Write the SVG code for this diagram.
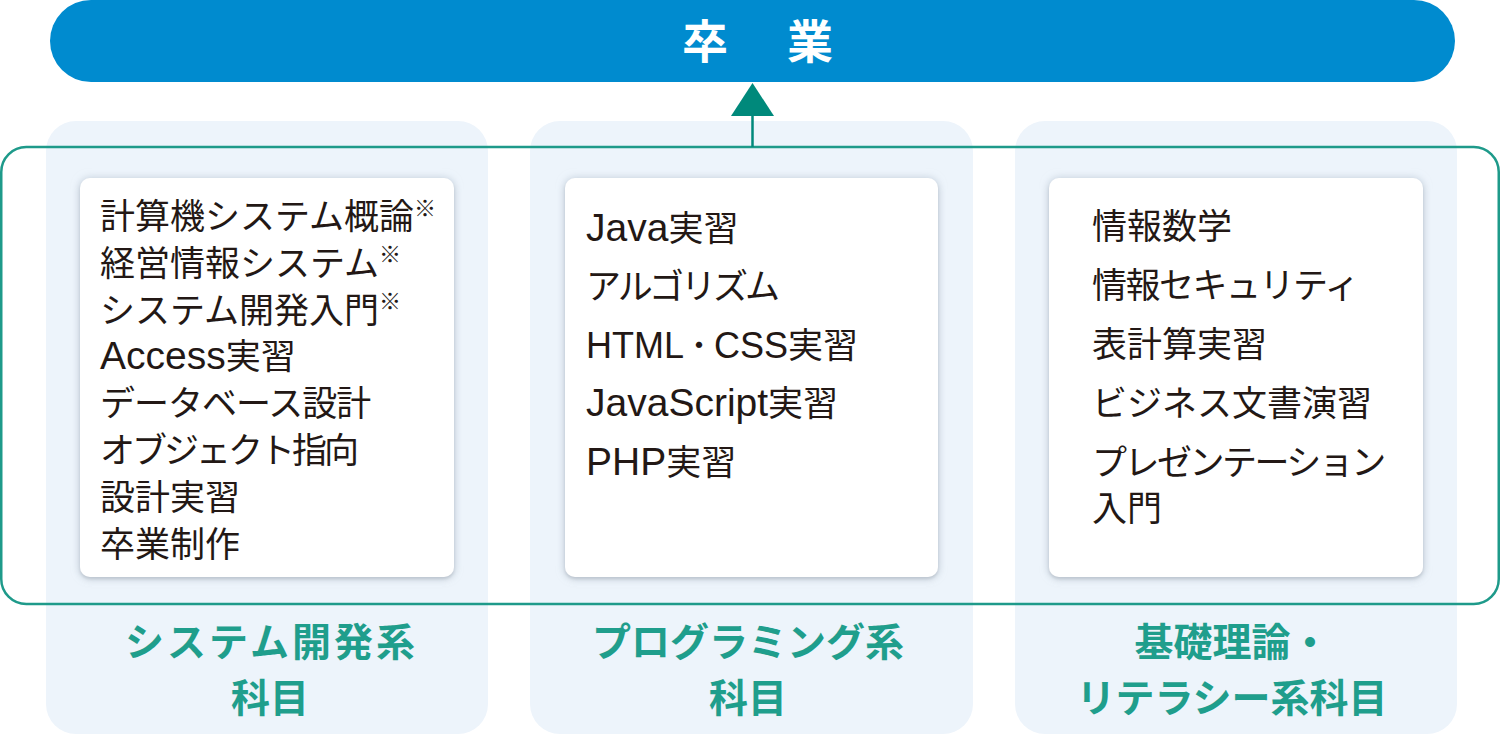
<svg xmlns="http://www.w3.org/2000/svg" width="1500" height="735" viewBox="0 0 1500 735">
  <defs>
    <style>
      .bg { fill: #EDF4FB; }
      .card { fill: #FFFFFF; filter: url(#shadow); }
      .jp { font-family: "Noto Sans CJK JP", "Noto Sans CJK SC", sans-serif; font-size: 35px; fill: #231815; }
      .lat { font-family: "Liberation Sans", Arial, sans-serif; font-size: 39px; }
      .cap { font-family: "Liberation Sans", Arial, sans-serif; font-size: 36px; }
      .kome { font-size: 22px; }
      .dot { font-size: 30px; }
      .label { font-family: "Noto Sans CJK JP", sans-serif; font-size: 39px; font-weight: bold; fill: #1F9E8C; text-anchor: middle; }
      .title { font-family: "Noto Sans CJK JP", sans-serif; font-size: 46px; font-weight: bold; fill: #FFFFFF; letter-spacing: 6.5px; }
    </style>
    <filter id="shadow" x="-10%" y="-10%" width="120%" height="120%">
      <feDropShadow dx="0" dy="0" stdDeviation="4" flood-color="#B8C6D6" flood-opacity="0.6"/>
      <feDropShadow dx="0" dy="2" stdDeviation="1.5" flood-color="#000000" flood-opacity="0.3"/>
    </filter>
  </defs>

  <!-- column backgrounds -->
  <rect class="bg" x="46" y="121" width="442" height="613" rx="30"/>
  <rect class="bg" x="530" y="121" width="443" height="613" rx="30"/>
  <rect class="bg" x="1015" y="121" width="442" height="613" rx="30"/>

  <!-- top node -->
  <g id="graduation">
    <rect x="50" y="0" width="1405" height="82" rx="41" fill="#008BCF"/>
    <text class="title" x="682" y="57.5">卒　業</text>
  </g>

  <!-- connectors -->
  <g id="connectors">
    <rect x="1.25" y="147" width="1497.5" height="457" rx="25" fill="none" stroke="#1E9A8A" stroke-width="2.5"/>
    <line x1="752.5" y1="147" x2="752.5" y2="114" stroke="#00897B" stroke-width="2.5"/>
    <polygon points="752.5,83 731,116 774,116" fill="#00897B"/>
  </g>

  <!-- column 1 -->
  <g id="col-system">
    <rect class="card" x="80" y="178" width="374" height="399" rx="10"/>
    <text class="jp" x="100" y="229">計算機システム概論<tspan class="kome" dy="-13.5">※</tspan></text>
    <text class="jp" x="100" y="275.8">経営情報システム<tspan class="kome" dy="-13.5">※</tspan></text>
    <text class="jp" x="100" y="322.6">システム開発入門<tspan class="kome" dy="-13.5">※</tspan></text>
    <text class="jp" x="100" y="369.4"><tspan class="lat">Access</tspan>実習</text>
    <text class="jp" x="100" y="416.2" letter-spacing="-1">データベース設計</text>
    <text class="jp" x="100" y="463" letter-spacing="-3">オブジェクト指向</text>
    <text class="jp" x="100" y="509.8">設計実習</text>
    <text class="jp" x="100" y="556.6">卒業制作</text>
    <text class="label" x="271.5" y="656" letter-spacing="3">システム開発系</text>
    <text class="label" x="270" y="712">科目</text>
  </g>

  <!-- column 2 -->
  <g id="col-programming">
    <rect class="card" x="565" y="178" width="373" height="399" rx="10"/>
    <text class="jp" x="586" y="240.5"><tspan class="lat">Java</tspan>実習</text>
    <text class="jp" x="586" y="299" letter-spacing="-3">アルゴリズム</text>
    <text class="jp" x="586" y="357.5"><tspan class="cap">HTML</tspan><tspan class="dot" dy="-2">・</tspan><tspan class="cap" dy="2">CSS</tspan>実習</text>
    <text class="jp" x="586" y="416"><tspan class="lat">JavaScript</tspan>実習</text>
    <text class="jp" x="586" y="474.5"><tspan class="lat">PHP</tspan>実習</text>
    <text class="label" x="748" y="656">プログラミング系</text>
    <text class="label" x="748" y="712">科目</text>
  </g>

  <!-- column 3 -->
  <g id="col-basic">
    <rect class="card" x="1049" y="178" width="374" height="399" rx="10"/>
    <text class="jp" x="1092" y="239">情報数学</text>
    <text class="jp" x="1092" y="298" letter-spacing="-1.5">情報セキュリティ</text>
    <text class="jp" x="1092" y="357">表計算実習</text>
    <text class="jp" x="1092" y="415.5">ビジネス文書演習</text>
    <text class="jp" x="1092" y="475" letter-spacing="-2.5">プレゼンテーション</text>
    <text class="jp" x="1092" y="521">入門</text>
    <text class="label" x="1232" y="656">基礎理論・</text>
    <text class="label" x="1232" y="712">リテラシー系科目</text>
  </g>
</svg>
